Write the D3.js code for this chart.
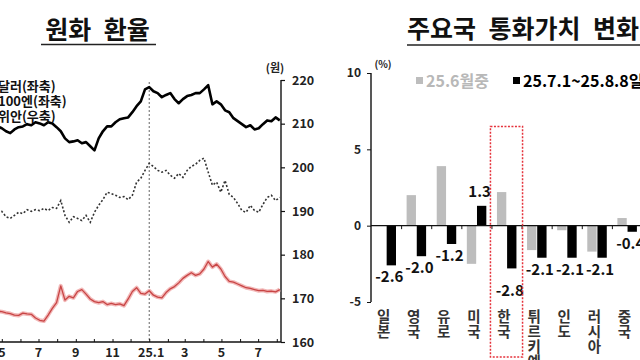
<!DOCTYPE html>
<html><head><meta charset="utf-8">
<script src="https://cdn.jsdelivr.net/npm/d3@7"></script>
<style>
body{margin:0;background:#fff}
svg{display:block}
text{font-family:"Noto Sans CJK KR","Noto Sans",sans-serif;font-weight:700}
text.vert{writing-mode:vertical-rl;text-orientation:upright}
</style>
</head><body>
<svg id="c" width="640" height="360"></svg>
<script>
// ---------- Left panel data: 원화 환율 (weekly readings) ----------
const dates = ["2024-04-17","2024-04-24","2024-05-01","2024-05-08","2024-05-15","2024-05-22","2024-05-29",
"2024-06-05","2024-06-12","2024-06-19","2024-06-26","2024-07-03","2024-07-10","2024-07-17","2024-07-24","2024-07-31",
"2024-08-07","2024-08-14","2024-08-21","2024-08-28","2024-09-04","2024-09-11","2024-09-18","2024-09-25",
"2024-10-02","2024-10-09","2024-10-16","2024-10-23","2024-10-30","2024-11-06","2024-11-13","2024-11-20","2024-11-27",
"2024-12-04","2024-12-11","2024-12-18","2024-12-25","2025-01-01","2025-01-08","2025-01-15","2025-01-22","2025-01-29",
"2025-02-05","2025-02-12","2025-02-19","2025-02-26","2025-03-05","2025-03-12","2025-03-19","2025-03-26",
"2025-04-02","2025-04-09","2025-04-16","2025-04-23","2025-04-30","2025-05-07","2025-05-14","2025-05-21","2025-05-28",
"2025-06-04","2025-06-11","2025-06-18","2025-06-25","2025-07-02","2025-07-09","2025-07-16","2025-07-23","2025-07-30","2025-08-06"];
const usd = [1379,1376,1371,1363,1358,1368,1374,
1376,1382,1379,1387,1384,1379,1387,1384,1374,
1363,1344,1334,1336,1339,1331,1334,1323,
1312,1344,1363,1376,1376,1387,1395,1398,1400,
1414,1430,1443,1475,1481,1470,1465,1454,1460,
1465,1449,1438,1449,1457,1460,1465,1465,
1475,1486,1435,1443,1435,1419,1414,1398,1390,
1382,1374,1379,1368,1371,1382,1392,1390,1400,1392];
const jpy100 = [885,882,881,878,876,872,871,
877,875,874,864,858,856,872,890,905,
950,912,922,918,935,940,928,915,
908,905,908,900,903,900,902,897,915,
935,945,930,928,937,925,920,918,932,
942,948,958,970,978,985,978,982,
995,1015,1000,1008,995,975,962,960,955,
950,945,943,940,937,938,935,936,934,940];
const cny = [189.9,189.7,189.9,188.7,188.3,189.0,189.7,
189.4,190.3,189.9,190.3,190.1,190.6,190.1,190.8,190.6,
192.4,189.0,187.4,188.7,188.3,187.8,189.0,187.4,
189.7,191.3,192.6,194.3,194.0,193.6,193.1,193.3,192.6,
193.6,196.6,197.5,199.3,200.9,200.2,199.3,198.9,199.3,
198.2,197.5,198.6,197.7,199.3,200.2,200.7,201.6,
202.1,198.9,195.9,196.6,194.3,197.0,193.8,193.1,191.7,
190.1,189.7,191.3,190.1,189.7,191.5,193.1,193.6,192.4,193.1];
const lineNames = ["달러(좌축)","100엔(좌축)","위안(우축)"];
const rightTicks = [160,170,180,190,200,210,220];
const monthLabelDates = ["2024-05-01","2024-07-01","2024-09-01","2024-11-01","2025-01-01","2025-03-01","2025-05-01","2025-07-01"];
const monthLabels = ["5","7","9","11","25.1","3","5","7"];

// ---------- Right panel data: 주요국 통화가치 변화 ----------
const countries = ["일본","영국","유로","미국","한국","튀르키예","인도","러시아","중국"];
const juneChg = [0.0,2.0,3.9,-2.5,2.2,-1.6,-0.3,-1.7,0.5];
const julAugChg = [-2.6,-2.0,-1.2,1.3,-2.8,-2.1,-2.1,-2.1,-0.4];
const barSeriesNames = ["25.6월중","25.7.1~25.8.8일"];
const barTicks = [10,5,0,-5];
const highlight = "한국";

const svg = d3.select("#c");
const parse = d3.timeParse("%Y-%m-%d");

// ===== Left panel =====
const L = svg.append("g");
const x = d3.scaleTime().domain([new Date(2024,0,1), new Date(2025,7,8)]).range([-71, 281]);
const yL = d3.scaleLinear().domain([800,1500]).range([342,80]);   // left axis lies outside the crop
const yR = d3.scaleLinear().domain([160,220]).range([342,80]);

L.append("text").attr("x",97.5).attr("y",39).attr("text-anchor","middle")
  .attr("font-size",25).attr("fill","#111").text("원화\u2002환율");
L.append("line").attr("x1",41).attr("x2",156).attr("y1",44.5).attr("y2",44.5)
  .attr("stroke","#222").attr("stroke-width",1.6);

// 25.1 divider
L.append("line").attr("x1",x(parse("2025-01-01"))).attr("x2",x(parse("2025-01-01")))
  .attr("y1",82).attr("y2",342).attr("stroke","#666").attr("stroke-width",1).attr("stroke-dasharray","2,2");

// right axis
const ra = L.append("g").attr("transform","translate(281,0)")
  .call(d3.axisRight(yR).tickValues(rightTicks).tickSize(4).tickPadding(7).tickFormat(d=>String(d)));
ra.select(".domain").attr("stroke","#111").attr("stroke-width",1.4).attr("d","M0,80V342");
ra.selectAll(".tick line").attr("stroke","#111").attr("stroke-width",1.2);
ra.selectAll("text").attr("font-size",12.5).attr("fill","#222").attr("font-family","'Noto Sans',sans-serif");
L.append("text").attr("x",275).attr("y",72).attr("text-anchor","middle").attr("font-size",11).attr("fill","#222").text("(원)");

// bottom axis
const months = d3.timeMonth.range(new Date(2024,0,1), new Date(2025,7,8));
const ba = L.append("g").attr("transform","translate(0,342)")
  .call(d3.axisBottom(x).tickValues(months).tickSize(-3).tickFormat(""));
ba.select(".domain").attr("stroke","#111").attr("stroke-width",1.4).attr("d","M-71,0H281");
ba.selectAll(".tick line").attr("stroke","#111");
L.selectAll("text.ml").data(monthLabels).join("text").attr("class","ml")
  .attr("x",(d,i)=>x(parse(monthLabelDates[i])) + (d==="25.1"?2:0))
  .attr("y",357).attr("text-anchor","middle").attr("font-size",12.5).attr("fill","#222")
  .attr("font-family","'Noto Sans',sans-serif").text(d=>d);

const pts = dates.map((d,i)=>({d:parse(d),usd:usd[i],jpy:jpy100[i],cny:cny[i]}));
const lineUsd = d3.line().x(p=>x(p.d)).y(p=>yL(p.usd));
const lineJpy = d3.line().x(p=>x(p.d)).y(p=>yL(p.jpy));
const lineCny = d3.line().x(p=>x(p.d)).y(p=>yR(p.cny));

L.append("path").datum(pts).attr("d",lineJpy).attr("fill","none").attr("stroke","#f2b8b8").attr("stroke-width",4).attr("stroke-linejoin","round");
L.append("path").datum(pts).attr("d",lineJpy).attr("fill","none").attr("stroke","#c84545").attr("stroke-width",1.3).attr("stroke-linejoin","round");
L.append("path").datum(pts).attr("d",lineCny).attr("fill","none").attr("stroke","#333").attr("stroke-width",1.6).attr("stroke-dasharray","2,2");
L.append("path").datum(pts).attr("d",lineUsd).attr("fill","none").attr("stroke","#000").attr("stroke-width",2.6).attr("stroke-linejoin","round");

// legend (markers fall outside the crop)
const legStyles = [{s:"#000",w:2.6,da:null},{s:"#c84545",w:2,da:null},{s:"#333",w:1.6,da:"2,2"}];
lineNames.forEach((n,i)=>{
  const yy = 86 + i*15;
  L.append("line").attr("x1",-32).attr("x2",-8).attr("y1",yy).attr("y2",yy)
    .attr("stroke",legStyles[i].s).attr("stroke-width",legStyles[i].w).attr("stroke-dasharray",legStyles[i].da);
});
const legT = L.append("text").attr("font-size",13).attr("fill","#111");
lineNames.forEach((n,i)=>{
  legT.append("tspan").attr("x",-2).attr("y",90.5 + i*15).text(n);
});

// ===== Right panel =====
const R = svg.append("g");
const xB = d3.scaleBand().domain(countries).range([371.5, 642.5]).paddingInner(0).paddingOuter(0);
const xS = d3.scaleBand().domain([0,1]).range([5, 24.5]).paddingInner(0.08);
const yB = d3.scaleLinear().domain([-5,10]).range([302,73]);

R.append("text").attr("x",407).attr("y",38).attr("font-size",25).attr("fill","#111").text("주요국\u2002통화가치\u2002변화");
R.append("line").attr("x1",407).attr("x2",640).attr("y1",45).attr("y2",45).attr("stroke","#222").attr("stroke-width",1.6);

// legend
const legCol = ["#bdbdbd","#000"];
const legX = [416,513];
barSeriesNames.forEach((n,i)=>{
  R.append("rect").attr("x",legX[i]).attr("y",77).attr("width",7).attr("height",7).attr("fill",legCol[i]);
  R.append("text").attr("x",legX[i]+10).attr("y",86.5).attr("font-size",16).attr("fill",i===0?"#b8b8b8":"#000").text(n);
});

// y axis
const yax = R.append("g").attr("transform","translate(371,0)")
  .call(d3.axisLeft(yB).tickValues(barTicks).tickSize(4).tickPadding(6).tickFormat(d=>String(d)));
yax.select(".domain").attr("stroke","#111").attr("stroke-width",1.4).attr("d","M0,73V302");
yax.selectAll(".tick line").attr("stroke","#111");
yax.selectAll("text").attr("font-size",12).attr("fill","#222").attr("font-family","'Noto Sans',sans-serif");
R.append("text").attr("x",383).attr("y",68).attr("text-anchor","middle").attr("font-size",10).attr("fill","#222").text("(%)");

// bars
const rows = countries.map((c,i)=>({c, v:[juneChg[i], julAugChg[i]]}));
const groups = R.selectAll("g.cat").data(rows).join("g").attr("class","cat")
  .attr("transform",d=>`translate(${xB(d.c)},0)`);
groups.selectAll("rect").data(d=>d.v.map((v,k)=>({v,k}))).join("rect")
  .attr("x",d=>xS(d.k)).attr("width",xS.bandwidth())
  .attr("y",d=>Math.min(yB(d.v),yB(0))).attr("height",d=>Math.abs(yB(d.v)-yB(0)))
  .attr("fill",d=>legCol[d.k]);

// zero line with category ticks
R.append("line").attr("x1",371).attr("x2",640).attr("y1",yB(0)).attr("y2",yB(0)).attr("stroke","#111").attr("stroke-width",1.4);
R.selectAll("line.ct").data(countries.slice(1)).join("line").attr("class","ct")
  .attr("x1",d=>xB(d)).attr("x2",d=>xB(d)).attr("y1",yB(0)).attr("y2",yB(0)+3.5).attr("stroke","#111");

// value labels (second series)
groups.append("text")
  .attr("x",d=>xS(1)+xS.bandwidth()/2-2)
  .attr("y",d=>{const v=d.v[1]; if(v>=0) return yB(v)-9; return yB(v) + (d.c===highlight?28:17);})
  .attr("text-anchor","middle").attr("font-size",15).attr("fill","#111")
  .attr("font-family","'Noto Sans',sans-serif")
  .text(d=>d.v[1].toFixed(1));

// category labels (vertical writing)
groups.append("text").attr("class","vert")
  .attr("x",xB.bandwidth()/2-3).attr("y",309)
  .attr("font-size",14.5).attr("fill","#333").attr("letter-spacing",0.5)
  .text(d=>d.c);

// highlight box
R.append("rect").attr("x",xB(highlight)-1.5).attr("width",xB.bandwidth()+2)
  .attr("y",yB(6.5)).attr("height",357-yB(6.5))
  .attr("fill","none").attr("stroke","#e5323b").attr("stroke-width",1.5).attr("stroke-dasharray","2,1.5");
</script>
</body></html>
